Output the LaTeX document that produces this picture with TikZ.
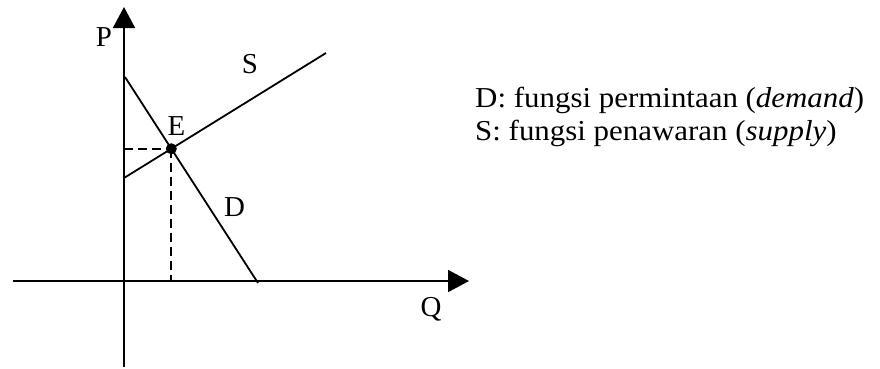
\documentclass[tikz,border=0pt]{standalone}
\usepackage{fontspec}
\setmainfont{Liberation Serif}
\usetikzlibrary{arrows.meta}
\begin{document}
\begin{tikzpicture}[x=1bp,y=-1bp,
  axis/.style={line width=1.8bp,-{Triangle[length=21bp,width=22bp]}},
  curve/.style={line width=1.8bp},
  guide/.style={line width=1.8bp,dash pattern=on 9bp off 5bp},
  lbl/.style={inner sep=0pt,font=\fontsize{29}{34}\selectfont},
  legend/.style={inner sep=0pt,anchor=base west,xscale=1.07,font=\fontsize{29}{34}\selectfont}]
\useasboundingbox (0,0) rectangle (880,368);
% axes
\coordinate (ybot) at (124,367);
\coordinate (ytop) at (124,7);
\coordinate (xleft) at (13,281);
\coordinate (xright) at (469,281);
\draw[axis] (ybot) -- (ytop);
\draw[axis] (xleft) -- (xright);
% curves
\coordinate (d1) at (125,77);
\coordinate (d2) at (258,283);
\coordinate (s1) at (124,178);
\coordinate (s2) at (326,53);
\draw[curve] (d1) -- (d2);
\draw[curve] (s1) -- (s2);
\coordinate (E) at (intersection of d1--d2 and s1--s2);
\coordinate (Ey) at (E -| ytop);
\coordinate (Ex) at (E |- xleft);
\draw[guide] (Ey) -- (E);
\draw[guide] (E) -- (Ex);
\fill (E) circle (5.5bp);
% labels
\node[lbl] (P) at (104,37) {P};
\node[lbl] (S) at (250,64) {S};
\node[lbl] (Elbl) at (176.5,126.5) {E};
\node[lbl] (D) at (234.5,207) {D};
\node[lbl] (Q) at (431,309) {Q};
% legend
\node[legend] (leg1) at (475,107) {D: fungsi permintaan (\textit{demand})};
\node[legend] (leg2) at (475,140) {S: fungsi penawaran (\textit{supply})};
\end{tikzpicture}
\end{document}
